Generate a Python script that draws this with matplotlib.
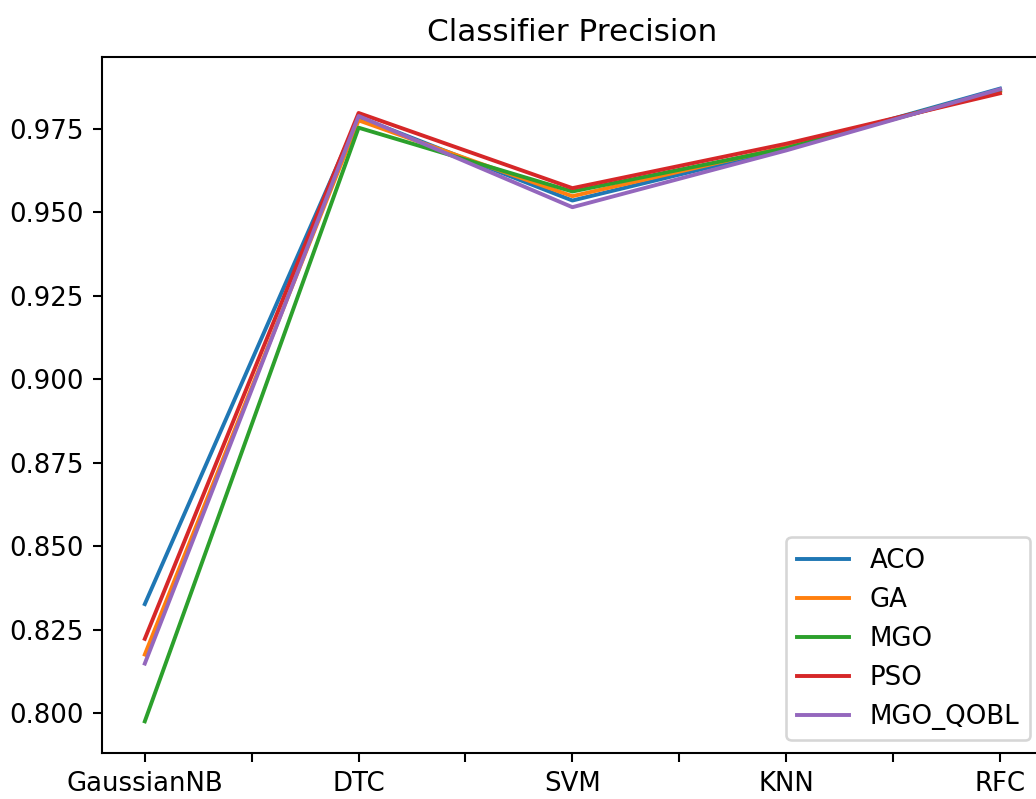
import numpy as np
import matplotlib
matplotlib.use("Agg")
import matplotlib.pyplot as plt

classifiers = ["GaussianNB", "DTC", "SVM", "KNN", "RFC"]
aco = [0.8327, 0.9785, 0.9535, 0.9690, 0.9870]
ga = [0.8176, 0.9775, 0.9548, 0.9695, 0.9862]
mgo = [0.7976, 0.9753, 0.9562, 0.9692, 0.9865]
pso = [0.8223, 0.9797, 0.9572, 0.9705, 0.9856]
mgo_qobl = [0.8149, 0.9788, 0.9515, 0.9685, 0.9868]

series = {"ACO": aco, "GA": ga, "MGO": mgo, "PSO": pso, "MGO_QOBL": mgo_qobl}

dpi = 187
fig = plt.figure(figsize=(1036 / dpi, 799 / dpi), dpi=dpi)
ax = fig.add_axes([0.0985, 0.0576, 0.908, 0.8711])

x = np.arange(len(classifiers))
for name, vals in series.items():
    ax.plot(x, vals, label=name)

ticks = np.arange(0, len(classifiers) - 0.5, 0.5)
labels = [classifiers[int(t)] if t == int(t) else "" for t in ticks]
ax.set_xticks(ticks)
ax.set_xticklabels(labels)

ax.set_title("Classifier Precision")
ax.legend(loc="lower right")

fig.savefig("out.png", dpi=dpi)
